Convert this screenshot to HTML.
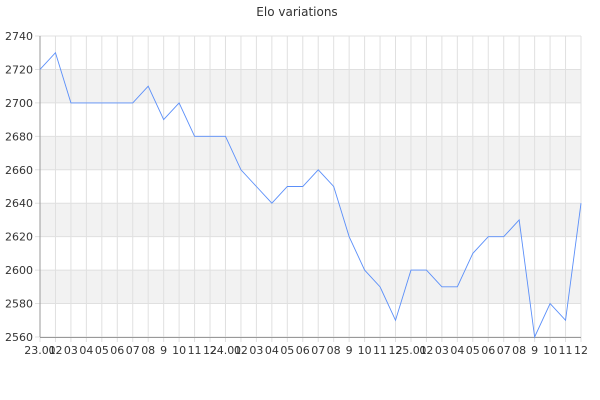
<!DOCTYPE html><html><head><style>body{margin:0;background:#fff}svg{display:block}text{font-family:"DejaVu Sans","Liberation Sans",sans-serif;font-size:11px;fill:#333}</style></head><body>
<svg width="600" height="400" id="s"></svg>
<script>
const s=document.getElementById('s');let h='';
const X=i=>40+i*541/35,Y=v=>36+(2740-v)*301/180;
h+='<text x="297" y="16" text-anchor="middle" style="font-size:12px">Elo variations</text>';
[2700,2660,2620,2580].forEach(v=>h+=`<rect x="40" y="${Y(v+20)}" width="541" height="${Y(v)-Y(v+20)}" fill="#f2f2f2"/>`);
for(let v=2560;v<=2740;v+=20){h+=`<line x1="35" x2="581" y1="${Y(v)}" y2="${Y(v)}" stroke="#e0e0e0"/>`;h+=`<text x="33" y="${Y(v)+4}" text-anchor="end">${v}</text>`;}
const L=[];['23','24','25'].forEach(y=>{L.push(y+'.01');for(let m=2;m<=12;m++)L.push(m==9?'9':String(m).padStart(2,'0'));});
for(let i=0;i<36;i++){h+=`<line x1="${X(i)}" x2="${X(i)}" y1="36" y2="342" stroke="#e0e0e0"/>`;h+=`<text x="${X(i)}" y="354" text-anchor="middle">${L[i]}</text>`;}
h+='<line x1="40" x2="40" y1="36" y2="337" stroke="#999"/><line x1="40" x2="581" y1="337.5" y2="337.5" stroke="#999"/>';
const d=[2720,2730,2700,2700,2700,2700,2700,2710,2690,2700,2680,2680,2680,2660,2650,2640,2650,2650,2660,2650,2620,2600,2590,2570,2600,2600,2590,2590,2610,2620,2620,2630,2560,2580,2570,2640];
h+=`<polyline fill="none" stroke="#5b8ff9" stroke-width="0.9" points="${d.map((v,i)=>X(i)+','+Y(v)).join(' ')}"/>`;
s.innerHTML=h;
</script></body></html>
